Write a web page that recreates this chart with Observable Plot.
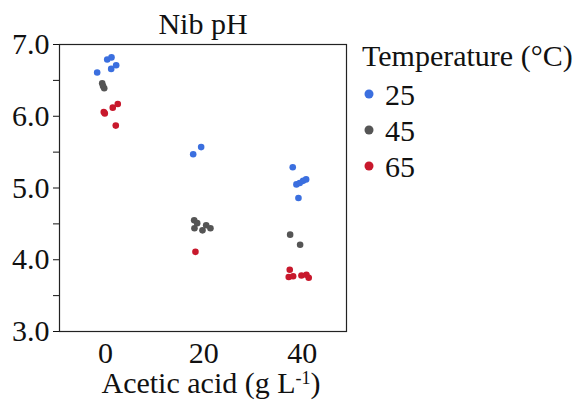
<!DOCTYPE html>
<html>
<head>
<meta charset="utf-8">
<script src="https://cdn.jsdelivr.net/npm/d3@7"></script>
<script src="https://cdn.jsdelivr.net/npm/@observablehq/plot@0.6"></script>
<style>
  html, body { margin: 0; padding: 0; background: #fff; }
  #chart { position: relative; width: 575px; height: 402px; }
  #chart svg text { font-family: "Liberation Serif", "Times New Roman", serif; font-variant: normal; }
</style>
</head>
<body>
<div id="chart"></div>
<script>
// Data
const temperatures = [25, 45, 65];
const colors = ["#3b6fdf", "#555555", "#c8182c"];
const xTicks = [0, 20, 40];
const yTicks = [3, 4, 5, 6, 7];
const yMinorTicks = [3.5, 4.5, 5.5, 6.5];

// one entry per replicate point
const acetic = [
  0,0,0,0,0, 0,0,0, 0,0,0,0,0,
  20,20, 20,20,20,20,20,20, 20,
  40,40,40,40,40,40, 40,40, 40,40,40,40,40,40
];
const temp = [
  25,25,25,25,25, 45,45,45, 65,65,65,65,65,
  25,25, 45,45,45,45,45,45, 65,
  25,25,25,25,25,25, 45,45, 65,65,65,65,65,65
];
const pH = [
  6.61,6.79,6.82,6.66,6.71, 6.46,6.39,6.42, 6.06,6.04,6.12,6.17,5.87,
  5.57,5.47, 4.55,4.51,4.44,4.41,4.48,4.44, 4.11,
  5.29,5.05,5.07,5.10,5.12,4.86, 4.35,4.21, 3.86,3.76,3.77,3.78,3.79,3.75
];
// horizontal jitter (g/L)
const jitter = [
  -1.69,0.35,1.22,1.16,2.17, -0.67,-0.26,-0.5, -0.35,-0.14,1.48,2.5,2.09,
  -0.55,-2.17, -1.97,-1.36,-1.91,-0.28,0.47,1.34, -1.71,
  -1.93,-1.18,-0.51,0.18,0.79,-0.77, -2.46,-0.43, -2.54,-2.74,-1.85,-0.16,0.85,1.32
];

const data = pH.map((v, i) => ({
  acetic: acetic[i], x: acetic[i] + jitter[i], temp: String(temp[i]), pH: v
}));

const FONT = "Liberation Serif, Times New Roman, serif";
const FS = 30;

const plot = Plot.plot({
  width: 575,
  height: 402,
  marginLeft: 59,
  marginRight: 229,
  marginTop: 44,
  marginBottom: 71,
  style: { fontFamily: FONT, fontSize: FS + "px", background: "#fff", color: "#111" },
  x: { domain: [-9.35, 49], label: null },
  y: { domain: [3, 7], label: null },
  color: { domain: temperatures.map(String), range: colors },
  marks: [
    Plot.frame({ stroke: "#222", strokeWidth: 1.2 }),
    Plot.axisY({ ticks: yMinorTicks, tickFormat: () => "", tickSize: 6, label: null }),
    Plot.axisY({ ticks: yTicks, tickFormat: d => d.toFixed(1), tickSize: 6, tickPadding: 4, label: null, fontSize: FS }),
    Plot.axisX({ ticks: xTicks, tickSize: 0, tickPadding: 10, label: null, fontSize: FS }),
    Plot.dot(data, { x: "x", y: "pH", fill: "temp", r: 3.3 }),
    Plot.text(["Nib pH"], { frameAnchor: "top", lineAnchor: "bottom", dy: -11, fontSize: FS, text: d => d })
  ]
});
document.getElementById("chart").appendChild(plot);

// x axis title with superscript
const svg = d3.select(plot);
const xt = svg.append("text")
  .attr("x", 211).attr("y", 393)
  .attr("text-anchor", "middle")
  .attr("font-size", FS)
  .attr("fill", "#111");
xt.append("tspan").text("Acetic acid (g L");
xt.append("tspan").attr("font-size", FS * 0.6).attr("dy", -9).text("-1");
xt.append("tspan").attr("dy", 9).text(")");

// legend
const color = plot.scale("color");
const lg = svg.append("g").attr("font-size", FS).attr("fill", "#111").attr("text-anchor", "start");
lg.append("text").attr("x", 362).attr("y", 66).text("Temperature (°C)");
temperatures.forEach((t, i) => {
  const cy = 94 + 36 * i;
  lg.append("circle").attr("cx", 369).attr("cy", cy).attr("r", 4.5).attr("fill", color.apply(String(t)));
  lg.append("text").attr("x", 385).attr("y", cy).attr("dy", "0.35em").text(String(t));
});
</script>
</body>
</html>
